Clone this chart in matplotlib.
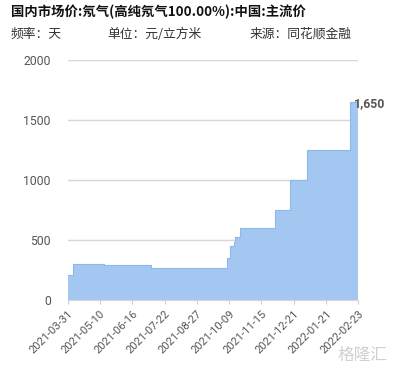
import numpy as np
import matplotlib
matplotlib.use("Agg")
import matplotlib.pyplot as plt
import matplotlib.dates as mdates

plt.rcParams['font.family'] = ['Roboto', 'Noto Sans CJK SC', 'DejaVu Sans']

# price change points (date, price in 元/立方米)
change_dates = ['2021-03-31', '2021-04-07', '2021-05-15', '2021-07-07',
                '2021-10-06', '2021-10-10', '2021-10-14', '2021-10-16',
                '2021-10-21', '2021-11-30', '2021-12-17', '2022-01-03',
                '2022-02-14', '2022-02-23']
prices = [210, 300, 290, 270, 350, 450, 480, 525, 600, 750, 1000, 1250,
          1650, 1650]

tick_dates = ['2021-03-31', '2021-05-10', '2021-06-16', '2021-07-22',
              '2021-08-27', '2021-10-09', '2021-11-15', '2021-12-21',
              '2022-01-21', '2022-02-23']
y_ticks = [0, 500, 1000, 1500, 2000]

title = '国内市场价:氖气(高纯氖气100.00%):中国:主流价'
last_label = '1,650'

x = mdates.datestr2num(change_dates)
tx = mdates.datestr2num(tick_dates)
idx = np.arange(len(tx))

fig = plt.figure(figsize=(3.93, 3.73), dpi=100)
ax = fig.add_axes([0.172, 0.196, 0.74, 0.643])

# the app spaces the date labels evenly (trading days), so map dates onto them
ax.set_xscale('function', functions=(lambda v: np.interp(v, tx, idx),
                                     lambda u: np.interp(u, idx, tx)))

ax.fill_between(x, prices, 0, step='post', color='#a3c7f0', lw=0, zorder=2)
ax.step(x, prices, where='post', color='#8cb8ec', lw=0.8, zorder=3)

ax.set_xlim(tx[0], tx[-1])
ax.set_ylim(0, 2000)
ax.set_yticks(y_ticks)
ax.set_yticklabels([str(v) for v in y_ticks], color='#555555', fontsize=8.8)
ax.set_xticks(tx)
ax.set_xticklabels(tick_dates, rotation=45, ha='right', rotation_mode='anchor',
                   color='#555555', fontsize=8)
ax.tick_params(axis='y', length=0, pad=12)
ax.tick_params(axis='x', length=3, color='#cccccc', pad=3)
ax.grid(axis='y', color='#d6d6d6', lw=1, zorder=1)
for s in ['left', 'right', 'top']:
    ax.spines[s].set_visible(False)
ax.spines['bottom'].set_color('#d6d6d6')

ax.annotate(last_label, (x[-1], prices[-1]), xytext=(-3, -1),
            textcoords='offset points', ha='left', va='center',
            fontsize=8.8, fontweight='bold', color='#555555', zorder=4)

fig.text(0.028, 0.968, title, fontsize=9.6, fontweight='bold', color='#111111',
         va='center', family=['Noto Sans CJK SC', 'DejaVu Sans'])
info = {0.028: '频率：天', 0.272: '单位：元/立方米', 0.635: '来源：同花顺金融'}
for xp, t in info.items():
    fig.text(xp, 0.909, t, fontsize=9.2, color='#333333', va='center',
             family=['Noto Sans CJK SC', 'DejaVu Sans'])

# watermark
fig.text(0.985, 0.025, '格隆汇', fontsize=12, color='#d0d0d0', ha='right',
         va='bottom', family=['Noto Sans CJK SC', 'DejaVu Sans'])

fig.savefig('out.png', dpi=100, facecolor='white')
